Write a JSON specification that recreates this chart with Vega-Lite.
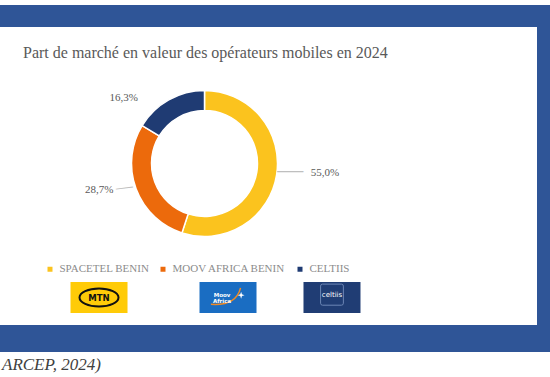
{
  "$schema": "https://vega.github.io/schema/vega-lite/v6.json",
  "background": "white",
  "padding": {"left": 0, "top": 5, "right": 0, "bottom": 0},
  "config": {"view": {"stroke": null}, "font": "Liberation Serif", "concat": {"spacing": 0}},
  "datasets": {
    "parts": [
      {"operateur": "SPACETEL BENIN", "part": 55.0, "label": "55,0%", "logo": "MTN"},
      {"operateur": "MOOV AFRICA BENIN", "part": 28.7, "label": "28,7%", "logo": "Moov Africa"},
      {"operateur": "CELTIIS", "part": 16.3, "label": "16,3%", "logo": "celtiis"}
    ],
    "blank": [{}],
    "source": [{"texte": "ARCEP, 2024)"}]
  },
  "spacing": 0,
  "vconcat": [
    {"width": 550, "height": 22, "data": {"name": "blank"}, "view": {"fill": "#2F5597", "stroke": null}, "mark": {"type": "text"}, "encoding": {"text": {"value": ""}}},
    {
      "spacing": 0,
      "hconcat": [
        {
          "spacing": 0,
          "vconcat": [
            {"width": 431, "height": 18, "data": {"name": "blank"}, "mark": {"type": "text"}, "encoding": {"text": {"value": ""}}},
            {
              "width": 409,
              "height": 165,
              "data": {"name": "parts"},
              "title": {"text": "Part de marché en valeur des opérateurs mobiles en 2024", "anchor": "start", "dx": 23, "font": "Liberation Serif", "fontSize": 16, "fontWeight": "normal", "color": "#595959", "baseline": "alphabetic", "offset": -20.5},
              "encoding": {
                "theta": {"field": "part", "type": "quantitative", "stack": true},
                "order": {"field": "part", "sort": "descending"}
              },
              "layer": [
                {
                  "mark": {"type": "arc", "outerRadius": 73, "innerRadius": 53, "stroke": "white", "strokeWidth": 1.5},
                  "encoding": {
                    "color": {
                      "field": "operateur", "type": "nominal",
                      "scale": {"domain": ["SPACETEL BENIN", "MOOV AFRICA BENIN", "CELTIIS"], "range": ["#FBC31E", "#EC6A0C", "#1F3B73"]},
                      "legend": {"orient": "none", "legendX": 44.5, "legendY": 258.5, "direction": "horizontal", "title": null, "symbolType": "square", "symbolSize": 25, "symbolStrokeWidth": 0, "labelFont": "Liberation Serif", "labelFontSize": 11, "labelColor": "#8C8C8C", "columnPadding": 8, "labelOffset": 4}
                    }
                  }
                },
                {
                  "mark": {"type": "text", "radius": 100, "align": "left", "baseline": "middle", "dx": 7.4, "dy": -5.8, "fontSize": 11, "color": "#595959", "font": "Liberation Serif"},
                  "encoding": {"text": {"condition": {"test": "datum.operateur === 'SPACETEL BENIN'", "field": "label", "type": "nominal"}, "value": ""}}
                },
                {
                  "mark": {"type": "text", "radius": 100, "align": "right", "baseline": "middle", "dx": 2.6, "dy": -8.3, "fontSize": 11, "color": "#595959", "font": "Liberation Serif"},
                  "encoding": {"text": {"condition": {"test": "datum.operateur === 'MOOV AFRICA BENIN'", "field": "label", "type": "nominal"}, "value": ""}}
                },
                {
                  "mark": {"type": "text", "radius": 80, "align": "right", "baseline": "middle", "dx": -27.3, "dy": 4.6, "fontSize": 11, "color": "#595959", "font": "Liberation Serif"},
                  "encoding": {"text": {"condition": {"test": "datum.operateur === 'CELTIIS'", "field": "label", "type": "nominal"}, "value": ""}}
                },
                {
                  "mark": {"type": "text", "radius": 100, "align": "right", "baseline": "alphabetic", "dx": 0, "dy": -1.4, "fontSize": 26, "color": "#BFBFBF", "font": "Liberation Serif"},
                  "encoding": {"text": {"condition": {"test": "datum.operateur === 'SPACETEL BENIN'", "value": "—"}, "value": ""}}
                },
                {
                  "mark": {"type": "text", "radius": 100, "align": "center", "baseline": "alphabetic", "angle": -7, "dx": 14.8, "dy": -4.6, "fontSize": 17, "color": "#BFBFBF", "font": "Liberation Serif"},
                  "encoding": {"text": {"condition": {"test": "datum.operateur === 'MOOV AFRICA BENIN'", "value": "—"}, "value": ""}}
                }
              ]
            },
            {"width": 431, "height": 35, "data": {"name": "blank"}, "mark": {"type": "text"}, "encoding": {"text": {"value": ""}}},
            {
              "width": 431,
              "height": 31,
              "data": {"name": "parts"},
              "encoding": {"x": {"field": "logo", "type": "nominal", "scale": {"type": "point", "domain": ["MTN", "Moov Africa", "celtiis"], "padding": 0.85}, "axis": null}},
              "layer": [
                {
                  "transform": [{"filter": "datum.logo !== 'Moov Africa'"}],
                  "mark": {"type": "point", "shape": "M-1,-0.544H1V0.544H-1Z", "size": 3249, "filled": true, "opacity": 1, "strokeWidth": 0},
                  "encoding": {"fill": {"field": "logo", "type": "nominal", "scale": {"domain": ["MTN", "Moov Africa", "celtiis"], "range": ["#FFCB08", "#1A6DC2", "#203D74"]}, "legend": null}}
                },
                {
                  "transform": [{"filter": "datum.logo === 'Moov Africa'"}],
                  "mark": {"type": "point", "shape": "M-0.561,-0.544H1.439V0.544H-0.561Z", "size": 3249, "filled": true, "opacity": 1, "strokeWidth": 0},
                  "encoding": {"fill": {"field": "logo", "type": "nominal", "scale": {"domain": ["MTN", "Moov Africa", "celtiis"], "range": ["#FFCB08", "#1A6DC2", "#203D74"]}, "legend": null}}
                },
                {
                  "transform": [{"filter": "datum.logo === 'MTN'"}],
                  "mark": {"type": "point", "shape": "M-0.684,0A0.684,0.316 0 1,1 0.684,0A0.684,0.316 0 1,1 -0.684,0Z", "size": 3249, "filled": false, "opacity": 1, "stroke": "#111111", "strokeWidth": 2}
                },
                {
                  "transform": [{"filter": "datum.logo === 'MTN'"}],
                  "mark": {"type": "text", "font": "DejaVu Sans", "fontWeight": "bold", "fontSize": 8.5, "color": "#111111", "baseline": "middle", "dy": 0.5},
                  "encoding": {"text": {"field": "logo", "type": "nominal"}}
                },
                {
                  "transform": [{"filter": "datum.logo === 'Moov Africa'"}],
                  "mark": {"type": "point", "shape": "M-0.161,0.24Q0.719,0.3 0.879,-0.34", "size": 3249, "filled": false, "opacity": 1, "stroke": "#F08A24", "strokeWidth": 1.5}
                },
                {
                  "transform": [{"filter": "datum.logo === 'Moov Africa'"}],
                  "mark": {"type": "point", "shape": "M0.899,-0.2L0.929,-0.11L1.019,-0.08L0.929,-0.05L0.899,0.04L0.869,-0.05L0.779,-0.08L0.869,-0.11Z", "size": 3249, "filled": true, "opacity": 1, "fill": "white", "strokeWidth": 0}
                },
                {
                  "transform": [{"filter": "datum.logo === 'Moov Africa'"}],
                  "mark": {"type": "text", "font": "DejaVu Sans", "fontWeight": "bold", "fontSize": 5.5, "color": "white", "baseline": "middle", "dx": 6.5, "dy": -3, "lineBreak": " ", "lineHeight": 6},
                  "encoding": {"text": {"field": "logo", "type": "nominal"}}
                },
                {
                  "transform": [{"filter": "datum.logo === 'celtiis'"}],
                  "mark": {"type": "point", "shape": "M-0.33,-0.47H0.33Q0.4,-0.47 0.4,-0.4V0.2Q0.4,0.27 0.33,0.27H-0.33Q-0.4,0.27 -0.4,0.2V-0.4Q-0.4,-0.47 -0.33,-0.47Z", "size": 3249, "filled": false, "opacity": 1, "stroke": "#6C86B5", "strokeWidth": 1}
                },
                {
                  "transform": [{"filter": "datum.logo === 'celtiis'"}],
                  "mark": {"type": "text", "font": "DejaVu Sans", "fontSize": 7, "color": "white", "baseline": "middle", "dy": -3},
                  "encoding": {"text": {"field": "logo", "type": "nominal"}}
                }
              ]
            }
          ]
        },
        {"width": 106, "height": 298, "data": {"name": "blank"}, "mark": {"type": "text"}, "encoding": {"text": {"value": ""}}},
        {"width": 13, "height": 298, "data": {"name": "blank"}, "view": {"fill": "#2F5597", "stroke": null}, "mark": {"type": "text"}, "encoding": {"text": {"value": ""}}}
      ]
    },
    {"width": 550, "height": 27, "data": {"name": "blank"}, "view": {"fill": "#2F5597", "stroke": null}, "mark": {"type": "text"}, "encoding": {"text": {"value": ""}}},
    {
      "width": 4,
      "height": 25,
      "data": {"name": "source"},
      "mark": {"type": "text", "align": "left", "baseline": "middle", "fontStyle": "italic", "fontSize": 17, "color": "#404040", "font": "Liberation Serif"},
      "encoding": {"text": {"field": "texte", "type": "nominal"}}
    }
  ]
}
